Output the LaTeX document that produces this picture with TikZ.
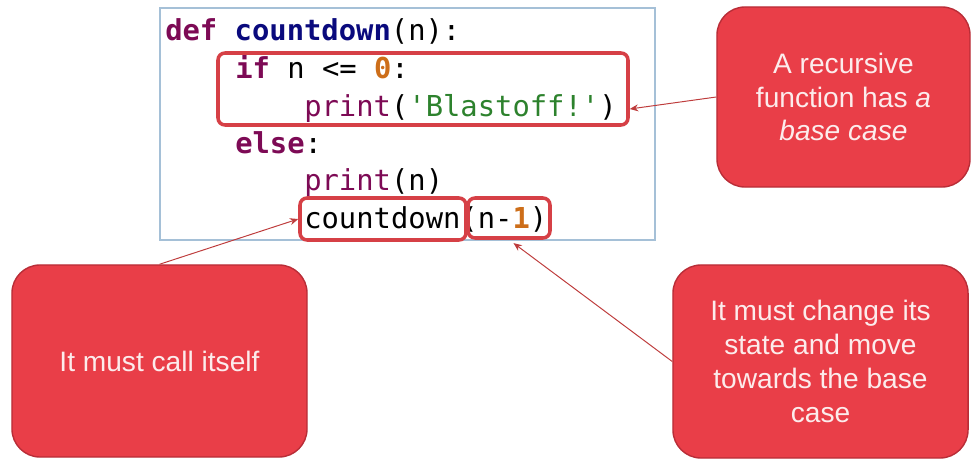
\documentclass[tikz,border=0pt]{standalone}
\usepackage{fontspec}
\setmainfont{Liberation Sans}
\setmonofont{DejaVu Sans Mono}
\usetikzlibrary{arrows.meta,fit}

\definecolor{calloutred}{RGB}{233,62,72}
\definecolor{calloutedge}{RGB}{185,45,55}
\definecolor{calloutink}{RGB}{252,236,236}
\definecolor{markred}{RGB}{214,64,70}
\definecolor{pointred}{RGB}{190,60,60}
\definecolor{codeframe}{RGB}{165,192,215}
\definecolor{kwpurple}{RGB}{125,10,85}
\definecolor{fnnavy}{RGB}{10,10,125}
\definecolor{strgreen}{RGB}{45,130,45}
\definecolor{numorange}{RGB}{205,110,25}

\newcommand{\kwd}[1]{\textcolor{kwpurple}{\bfseries #1}}
\newcommand{\fname}[1]{\textcolor{fnnavy}{\bfseries #1}}
\newcommand{\builtin}[1]{\textcolor{kwpurple}{#1}}
\newcommand{\strlit}[1]{\textcolor{strgreen}{#1}}
\newcommand{\numlit}[1]{\textcolor{numorange}{\bfseries #1}}

\begin{document}
\begin{tikzpicture}[x=0.025cm, y=-0.025cm,
            code/.style={anchor=base west, inner sep=0pt, font=\ttfamily\fontsize{20.5}{24}\selectfont},
            codebox/.style={draw=codeframe, line width=0.8pt, inner sep=0pt},
            marker/.style={draw=markred, line width=2.5pt, rounded corners=5pt, inner sep=0pt},
            callout/.style={draw=calloutedge, fill=calloutred, line width=1pt, rounded corners=20pt,
                            inner sep=0pt, align=center, text=calloutink, font=\fontsize{20}{24}\selectfont},
            arrow/.style={draw=pointred, line width=0.7pt, -{Stealth[length=6pt,width=5pt]}}
         ]
      \useasboundingbox (0,0) rectangle (980,467);

      \node[codebox, fit={(160,8) (655,240)}] (listing) {};
      \node[code] (l1) at (165,40) {\kwd{def} \fname{countdown}(n):};
      \node[code] (l2) at (235,78) {\kwd{if} n <= \numlit{0}:};
      \node[code] (l3) at (304,116) {\builtin{print}(\strlit{'Blastoff!'})};
      \node[code] (l4) at (235,153) {\kwd{else}:};
      \node[code] (l5) at (304,190) {\builtin{print}(n)};
      \node[code] (l6) at (304,228) {countdown(n-\numlit{1})};

      \node[marker, fit={(218,53) (628,125)}] (base) {};
      \node[marker, fit={(300,198) (466,240)}] (call) {};
      \node[marker, fit={(468,198) (550,238)}] (arg) {};

      \node[callout, minimum width=6.325cm, minimum height=4.5cm] (rec) at (843.5,97)
         {A recursive\\function has \textit{a}\\\textit{base case}};
      \node[callout, minimum width=7.375cm, minimum height=4.8cm] (self) at (159.5,361)
         {It must call itself};
      \node[callout, minimum width=7.375cm, minimum height=4.825cm] (state) at (820.5,361.5)
         {It must change its\\state and move\\towards the base\\case};

      \draw[arrow] (rec.west) -- ([yshift=-0.5cm]base.east);
      \draw[arrow] (self.north) -- (call.west);
      \draw[arrow, shorten >=4pt] (state.west) -- (arg.south);

   \end{tikzpicture}
\end{document}
